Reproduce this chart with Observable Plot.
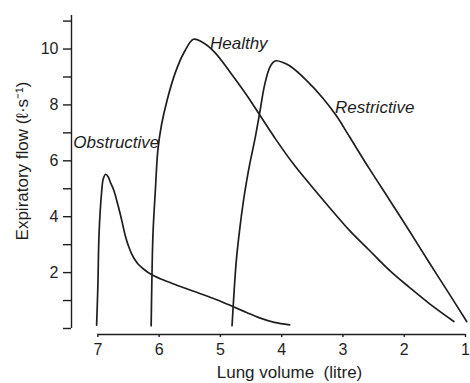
<!DOCTYPE html>
<html>
<head>
<meta charset="utf-8">
<script src="https://cdn.jsdelivr.net/npm/d3@7"></script>
<script src="https://cdn.jsdelivr.net/npm/@observablehq/plot@0.6"></script>
<style>
  body { margin: 0; background: #fff; }
</style>
</head>
<body>
<div id="chart"></div>
<script>
// Tick values
const xTicks = [7, 6, 5, 4, 3, 2, 1];
const yTicks = [0, 1, 2, 3, 4, 5, 6, 7, 8, 9, 10, 11];
const yLabelled = [2, 4, 6, 8, 10];
const xDomain = [7.43, 1];
const yDomain = [-0.215, 11.2];

// Series: lung volume (litre) and expiratory flow (l/s)
const healthyVolume = [6.13, 6.12, 6.10, 6.06, 6.02, 5.96, 5.87, 5.74, 5.60, 5.44, 5.30, 5.10, 4.85, 4.57, 4.36, 4.09, 3.82, 3.60, 3.22, 2.89, 2.57, 2.24, 1.92, 1.59, 1.19];
const healthyFlow   = [0.10, 1.50, 3.40, 5.00, 6.40, 7.30, 8.17, 9.13, 9.85, 10.35, 10.25, 9.90, 9.20, 8.35, 7.65, 6.75, 5.92, 5.32, 4.33, 3.50, 2.80, 2.08, 1.48, 0.89, 0.25];

const restrictiveVolume = [4.81, 4.78, 4.74, 4.685, 4.625, 4.57, 4.52, 4.44, 4.36, 4.28, 4.20, 4.14, 4.09, 3.98, 3.87, 3.60, 3.33, 3.11, 2.89, 2.57, 2.24, 1.91, 1.59, 1.26, 0.98];
const restrictiveFlow   = [0.10, 1.20, 2.44, 3.55, 4.55, 5.30, 5.90, 6.74, 7.70, 8.70, 9.32, 9.52, 9.58, 9.52, 9.40, 8.89, 8.25, 7.62, 6.85, 5.72, 4.60, 3.47, 2.35, 1.22, 0.25];

const obstructiveVolume = [7.02, 7.00, 6.98, 6.94, 6.91, 6.87, 6.83, 6.79, 6.74, 6.67, 6.61, 6.55, 6.50, 6.45, 6.40, 6.34, 6.25, 6.12, 5.95, 5.71, 5.45, 5.17, 4.98, 4.79, 4.58, 4.36, 4.12, 3.87];
const obstructiveFlow   = [0.12, 1.50, 3.40, 4.84, 5.37, 5.52, 5.42, 5.20, 4.95, 4.40, 3.87, 3.30, 2.95, 2.68, 2.48, 2.30, 2.12, 1.92, 1.75, 1.55, 1.34, 1.12, 0.96, 0.78, 0.58, 0.38, 0.22, 0.13];

// Curve labels
const labelText = ["Healthy", "Restrictive", "Obstructive"];
const labelVolume = [5.17, 3.13, 7.40];
const labelFlow = [10.20, 7.91, 6.65];

const series = [
  ["Healthy", healthyVolume, healthyFlow],
  ["Restrictive", restrictiveVolume, restrictiveFlow],
  ["Obstructive", obstructiveVolume, obstructiveFlow]
];
const rows = series.flatMap(([name, xs, ys]) => xs.map((v, i) => ({series: name, volume: v, flow: ys[i]})));
const labels = labelText.map((t, i) => ({text: t, volume: labelVolume[i], flow: labelFlow[i]}));

const ink = "#1e1e1e";
const font = "'Liberation Sans', Arial, Helvetica, sans-serif";

const chart = Plot.plot({
  width: 470,
  height: 383,
  marginLeft: 71,
  marginRight: 5,
  marginTop: 15,
  marginBottom: 49,
  style: {fontFamily: font, fontSize: "16px", color: ink, background: "#fff"},
  x: {domain: xDomain, axis: null},
  y: {domain: yDomain, axis: null},
  marks: [
    // y axis
    Plot.ruleX([xDomain[0]], {y1: 0, y2: yDomain[1], stroke: ink, strokeWidth: 1.4}),
    Plot.axisY({ticks: yTicks, tickSize: 8, tickPadding: 5, fontSize: 16,
      tickFormat: d => yLabelled.includes(d) ? String(d) : "", label: null, strokeWidth: 1.4}),
    // x axis
    Plot.ruleY([yDomain[0]], {x1: xTicks[0], x2: xTicks[xTicks.length - 1], stroke: ink, strokeWidth: 1.4}),
    Plot.axisX({ticks: xTicks, tickSize: 3, tickPadding: 6, fontSize: 16, label: null, strokeWidth: 1.4,
      tickFormat: d => String(d)}),
    // axis titles
    Plot.text(["Lung volume\u00a0 (litre)"], {frameAnchor: "bottom", textAnchor: "middle", lineAnchor: "middle",
      dx: 21, dy: 38, fontSize: 17, fill: ink}),
    Plot.text(["Expiratory flow (\u2113\u00b7s\u207b\u00b9)"], {frameAnchor: "left", textAnchor: "middle", lineAnchor: "middle",
      rotate: -90, dx: -49, dy: -14, fontSize: 17, fill: ink}),
    // curves
    Plot.line(rows, {x: "volume", y: "flow", z: "series", curve: "catmull-rom", stroke: ink, strokeWidth: 1.7}),
    // labels
    Plot.text(labels, {x: "volume", y: "flow", text: "text", textAnchor: "start", fontStyle: "italic", fontSize: 17, fill: ink})
  ]
});
document.getElementById("chart").appendChild(chart);
</script>
</body>
</html>
